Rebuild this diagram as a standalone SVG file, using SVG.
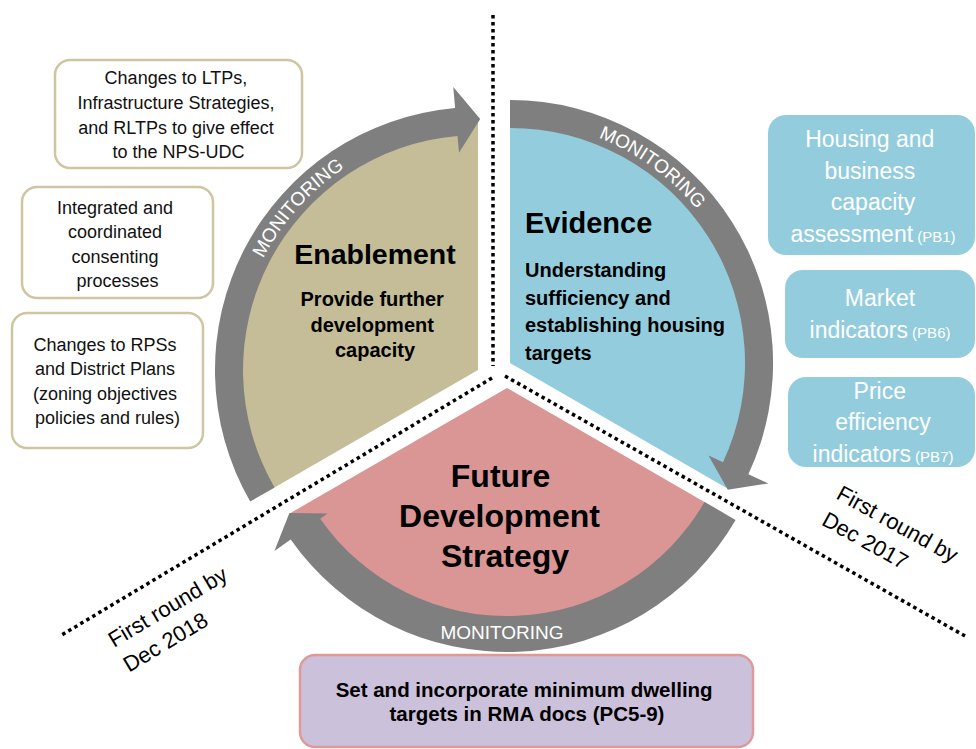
<svg xmlns="http://www.w3.org/2000/svg" width="976" height="749" viewBox="0 0 976 749">
  <style>
    .sans { font-family: "Liberation Sans", Arial, sans-serif; }
    .ring { fill: #7F7F7F; }
    .mon { fill: #FFFFFF; font-size: 19px; }
    .head { font-weight: bold; fill: #000000; }
    .sub { font-weight: bold; font-size: 20px; fill: #000000; }
    .leftbox { fill: #FFFFFF; stroke: #CDC6A0; stroke-width: 2.5; }
    .leftbox-text { font-size: 18px; fill: #111111; }
    .bluebox { fill: #93CDDD; }
    .bluebox-text { font-size: 23px; fill: #FFFFFF; }
    .code { font-size: 15px; }
    .divider { fill: none; stroke: #000000; stroke-width: 3.5; stroke-dasharray: 3.5 3.5; }
    .note { font-size: 22px; fill: #000000; }
  </style>
  <defs>
    <!-- baseline arcs for the curved ring labels -->
    <path id="mon-enable-path" d="M241.3,319.7 A242,242 0 0 1 403.2,139.8"/>
    <path id="mon-evid-path" d="M535.3,122.3 A242,242 0 0 1 731.1,264.6"/>
  </defs>

  <rect width="976" height="749" fill="#FFFFFF"/>

  <!-- dotted dividers between the three stages -->
  <g id="dividers">
    <line class="divider" x1="493" y1="15" x2="493" y2="366"/>
    <line class="divider" x1="492" y1="378" x2="60" y2="636"/>
    <line class="divider" x1="505" y1="376" x2="965" y2="636"/>
  </g>

  <!-- stage sectors -->
  <g id="enablement">
    <path d="M478,370 L261.5,495 A250,250 0 0 1 478,120 Z" fill="#C4BD97"/>
    <text class="sans head" x="375" y="264" font-size="28.5" text-anchor="middle">Enablement</text>
    <text class="sans sub" text-anchor="middle">
      <tspan x="375" y="306">Provide further</tspan>
      <tspan x="375" y="332">development</tspan>
      <tspan x="375" y="357">capacity</tspan>
    </text>
  </g>

  <g id="evidence">
    <path d="M510,363 L510,113 A250,250 0 0 1 726.5,488 Z" fill="#93CDDD"/>
    <text class="sans head" x="525" y="233" font-size="29">Evidence</text>
    <text class="sans sub">
      <tspan x="525" y="277">Understanding</tspan>
      <tspan x="525" y="305">sufficiency and</tspan>
      <tspan x="525" y="332">establishing housing</tspan>
      <tspan x="525" y="360">targets</tspan>
    </text>
  </g>

  <g id="future-strategy">
    <path d="M507,388 L723.5,513 A250,250 0 0 1 290.5,513 Z" fill="#D99694"/>
    <text class="sans head" font-size="32" text-anchor="middle">
      <tspan x="505" y="487">Future</tspan>
      <tspan x="504" y="527">Development</tspan>
      <tspan x="505" y="567">Strategy</tspan>
    </text>
  </g>

  <!-- monitoring cycle: curved arrows joining the stages -->
  <g id="connectors">
    <path id="arrow-enable-evid" class="ring" d="M250.2,501.5 A263,263 0 0 1 455.1,108 L453.3,87.1 L480.2,119 L459,152.8 L457.5,135.9 A235,235 0 0 0 274.5,487.5 Z"/>
    <path id="arrow-evid-future" class="ring" d="M510,100 A263,263 0 0 1 748.4,474.2 L768.3,483.4 L727.8,489.8 L708.5,455.6 L723,462.3 A235,235 0 0 0 510,128 Z"/>
    <path id="arrow-future-enable" class="ring" d="M735.6,520 A264,264 0 0 1 290.7,539.4 L274.4,550.9 L289.4,513.1 L327.6,513.6 L320.2,518.8 A228,228 0 0 0 704.5,502 Z"/>
    <text class="sans mon"><textPath href="#mon-enable-path" startOffset="50%" text-anchor="middle">MONITORING</textPath></text>
    <text class="sans mon"><textPath href="#mon-evid-path" startOffset="50%" text-anchor="middle">MONITORING</textPath></text>
    <text class="sans mon" x="502" y="639" font-size="21" text-anchor="middle">MONITORING</text>
  </g>

  <!-- enablement actions -->
  <g id="box-ltps">
    <rect class="leftbox" x="55" y="60" width="247" height="108" rx="15"/>
    <text class="sans leftbox-text" text-anchor="middle">
      <tspan x="178.5" y="84">Changes to LTPs,</tspan>
      <tspan x="178.5" y="109">Infrastructure Strategies,</tspan>
      <tspan x="178.5" y="134">and RLTPs to give effect</tspan>
      <tspan x="178.5" y="158">to the NPS-UDC</tspan>
    </text>
  </g>

  <g id="box-consenting">
    <rect class="leftbox" x="22" y="187" width="191" height="111" rx="15"/>
    <text class="sans leftbox-text" text-anchor="middle">
      <tspan x="117.5" y="214">Integrated and</tspan>
      <tspan x="117.5" y="238">coordinated</tspan>
      <tspan x="117.5" y="263">consenting</tspan>
      <tspan x="117.5" y="287">processes</tspan>
    </text>
  </g>

  <g id="box-rps">
    <rect class="leftbox" x="12" y="313" width="191" height="135" rx="15"/>
    <text class="sans leftbox-text" text-anchor="middle">
      <tspan x="107.5" y="351">Changes to RPSs</tspan>
      <tspan x="107.5" y="375">and District Plans</tspan>
      <tspan x="107.5" y="400">(zoning objectives</tspan>
      <tspan x="107.5" y="424">policies and rules)</tspan>
    </text>
  </g>

  <!-- evidence outputs -->
  <g id="box-capacity">
    <rect class="bluebox" x="768" y="115" width="207" height="140" rx="18"/>
    <text class="sans bluebox-text" text-anchor="middle">
      <tspan x="873" y="147">Housing and</tspan>
      <tspan x="873" y="179">business</tspan>
      <tspan x="873" y="210">capacity</tspan>
    </text>
    <text class="sans bluebox-text" x="873" y="242" text-anchor="middle">assessment<tspan class="code"> (PB1)</tspan></text>
  </g>

  <g id="box-market">
    <rect class="bluebox" x="785" y="270" width="190" height="88" rx="18"/>
    <text class="sans bluebox-text" x="880" y="306" text-anchor="middle">Market</text>
    <text class="sans bluebox-text" x="880" y="338" text-anchor="middle">indicators<tspan class="code"> (PB6)</tspan></text>
  </g>

  <g id="box-price">
    <rect class="bluebox" x="788" y="377" width="187" height="90" rx="18"/>
    <text class="sans bluebox-text" text-anchor="middle">
      <tspan x="883" y="399">Price</tspan>
      <tspan x="883" y="430">efficiency</tspan>
    </text>
    <text class="sans bluebox-text" x="883" y="462" text-anchor="middle">indicators<tspan class="code"> (PB7)</tspan></text>
  </g>

  <!-- strategy output -->
  <g id="box-dwelling">
    <rect x="300" y="655" width="453" height="92" rx="15" fill="#CCC1DA" stroke="#DE9A98" stroke-width="2.5"/>
    <text class="sans" font-weight="bold" font-size="20.5" fill="#000000" text-anchor="middle">
      <tspan x="527" y="697">Set and incorporate minimum dwelling</tspan>
      <tspan x="527" y="721">targets in RMA docs (PC5-9)</tspan>
    </text>
  </g>

  <!-- timing notes along the dividers -->
  <g id="timing-2017" transform="translate(835,498) rotate(29)">
    <text class="sans note">
      <tspan x="0" y="0">First round by</tspan>
      <tspan x="0" y="30">Dec 2017</tspan>
    </text>
  </g>
  <g id="timing-2018" transform="translate(114,648) rotate(-31)">
    <text class="sans note">
      <tspan x="0" y="0">First round by</tspan>
      <tspan x="0" y="29">Dec 2018</tspan>
    </text>
  </g>
</svg>
